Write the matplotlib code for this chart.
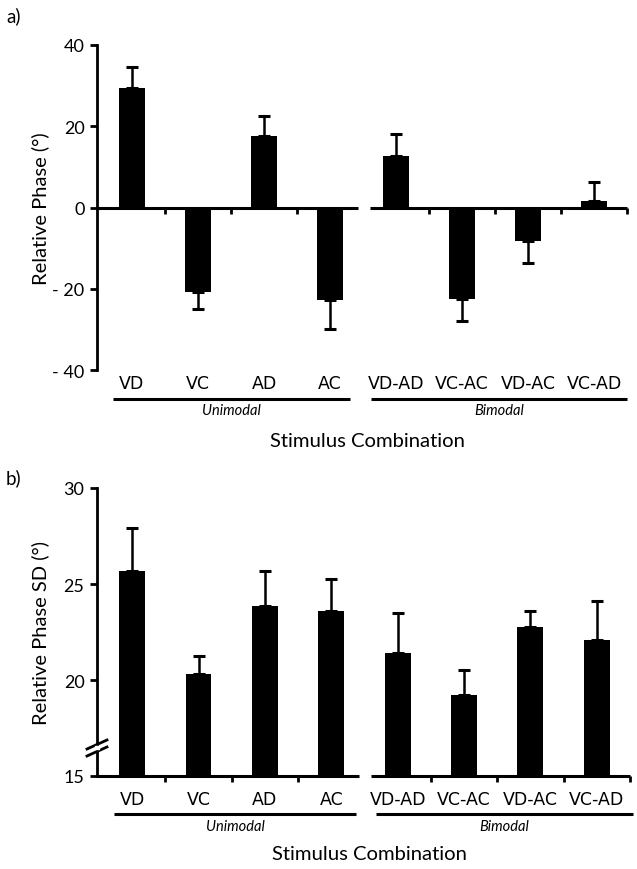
import matplotlib
matplotlib.use("Agg")
import matplotlib.pyplot as plt
import matplotlib.transforms as mtransforms
import numpy as np

categories = ["VD", "VC", "AD", "AC", "VD-AD", "VC-AC", "VD-AC", "VC-AD"]
groups = ["Unimodal", "Bimodal"]
group_sizes = [4, 4]

phase_mean = [29.4, -20.7, 17.5, -22.7, 12.8, -22.5, -8.3, 1.7]
phase_err = [5.2, 4.3, 5.0, 7.2, 5.2, 5.4, 5.3, 4.7]

sd_mean = [25.7, 20.3, 23.85, 23.6, 21.4, 19.2, 22.75, 22.1]
sd_err = [2.2, 0.95, 1.85, 1.65, 2.1, 1.3, 0.85, 2.0]

phase_ticks = [-40, -20, 0, 20, 40]
phase_ticklabels = ["- 40", "- 20", "0", "20", "40"]
sd_ticks = [15, 20, 25, 30]
sd_ticklabels = ["15", "20", "25", "30"]

W, H = 637, 870
fig = plt.figure(figsize=(W / 100, H / 100), dpi=100)

CAL = ["Lato", "DejaVu Sans"]
CAT = ["DejaVu Sans"]


def px_ax(left, right, top, bottom):
    return fig.add_axes([left / W, 1 - bottom / H, (right - left) / W, (bottom - top) / H])


def draw_panel(ax, means, errs, base, ylim, ticks, ticklabels, ylabel, axis_y,
               lab_dy, grp_dy, grp_txt_dy, xlab_dy, grp_extents, width_px):
    n = len(categories)
    x = np.arange(n)
    xmin, xmax = -0.53, n - 0.5
    ax.set_xlim(xmin, xmax)
    ax.set_ylim(*ylim)
    heights = [m - base for m in means]
    ax.bar(x, heights, bottom=base, width=0.39, color="black", zorder=2)
    lower = [e if m < base else 0 for m, e in zip(means, errs)]
    upper = [e if m >= base else 0 for m, e in zip(means, errs)]
    ax.errorbar(x, means, yerr=[lower, upper], fmt="none", ecolor="black",
                elinewidth=1.8, capsize=4.5, capthick=2.2, zorder=3)
    for s in ["top", "right", "bottom"]:
        ax.spines[s].set_visible(False)
    ax.spines["left"].set_linewidth(2)
    ax.spines["left"].set_position(("data", xmin))
    ax.set_yticks(ticks)
    ax.set_yticklabels(ticklabels, fontsize=13, family=CAL)
    ax.tick_params(axis="y", length=5, width=2, pad=4)
    ax.set_xticks([])
    ax.set_ylabel(ylabel, fontsize=14.5, family=CAL)
    ax.yaxis.label.set_va("center")
    ax.yaxis.set_label_coords((40 - 97) / width_px, 0.5)

    # broken x-axis line at axis_y
    split = group_sizes[0] - 0.5
    ax.plot([xmin, split - 0.08], [axis_y, axis_y], color="black", lw=2.2,
            solid_capstyle="butt", clip_on=False, zorder=4)
    ax.plot([split + 0.1, xmax], [axis_y, axis_y], color="black", lw=2.2,
            solid_capstyle="butt", clip_on=False, zorder=4)
    tick_x = [i + 0.5 for i in range(n) if i != group_sizes[0] - 1]
    ax.plot(tick_x, [axis_y] * len(tick_x), linestyle="none", marker=3,
            markersize=4, markeredgewidth=2, color="black", clip_on=False, zorder=4)

    # category labels
    trans_lab = mtransforms.offset_copy(ax.get_xaxis_transform(), fig=fig,
                                        y=-lab_dy, units="dots")
    for xi, c in zip(x, categories):
        ax.text(xi, 0, c, transform=trans_lab, ha="center", va="center",
                fontsize=12.5, family=CAT)
    # group lines and labels
    trans_g = mtransforms.offset_copy(ax.get_xaxis_transform(), fig=fig,
                                      y=-grp_dy, units="dots")
    trans_gt = mtransforms.offset_copy(ax.get_xaxis_transform(), fig=fig,
                                       y=-grp_txt_dy, units="dots")
    for g, (a, b) in zip(groups, grp_extents):
        ax.plot([a, b], [0, 0], transform=trans_g, color="black", lw=2.2,
                clip_on=False, solid_capstyle="butt")
        ax.text((a + b) / 2, 0, g, transform=trans_gt, ha="center", va="center",
                fontsize=10.5, style="italic", family=CAL)
    trans_xl = mtransforms.offset_copy(ax.get_xaxis_transform(), fig=fig,
                                       y=-xlab_dy, units="dots")
    ax.text(3.57, 0, "Stimulus Combination", transform=trans_xl,
            ha="center", va="center", fontsize=14.6, family=CAL)


# Panel a
ax1 = px_ax(97, 627, 46, 371)
draw_panel(ax1, phase_mean, phase_err, 0, (-40, 40), phase_ticks, phase_ticklabels,
           "Relative Phase (°)", 0, 13, 29, 40, 71,
           [(-0.29, 3.3), (3.62, 7.5)], 530)

# Panel b
ax2 = px_ax(97, 630, 489, 777)
draw_panel(ax2, sd_mean, sd_err, 15, (15, 30), sd_ticks, sd_ticklabels,
           "Relative Phase SD (°)", 15, 23, 38, 50, 78,
           [(-0.27, 3.37), (3.67, 7.55)], 533)

# axis break marks on panel b left spine
for dy in (0, 7):
    p0 = (87 / W, 1 - (757 + dy - 7) / H)
    p1 = (107 / W, 1 - (748 + dy - 7) / H)
    fig.add_artist(plt.Line2D([p0[0], p1[0]], [p0[1], p1[1]], color="black", lw=2,
                              transform=fig.transFigure))
fig.add_artist(plt.Polygon([[95 / W, 1 - 747 / H], [99 / W, 1 - 747 / H],
                            [99 / W, 1 - 750 / H], [95 / W, 1 - 750 / H]],
                           closed=True, color="white", transform=fig.transFigure,
                           zorder=5))

fig.text(6 / W, 1 - 16 / H, "a)", fontsize=13.5, family=CAL, va="center", ha="left")
fig.text(6 / W, 1 - 478 / H, "b)", fontsize=13.5, family=CAL, va="center", ha="left")

fig.savefig("out.png", dpi=100)
